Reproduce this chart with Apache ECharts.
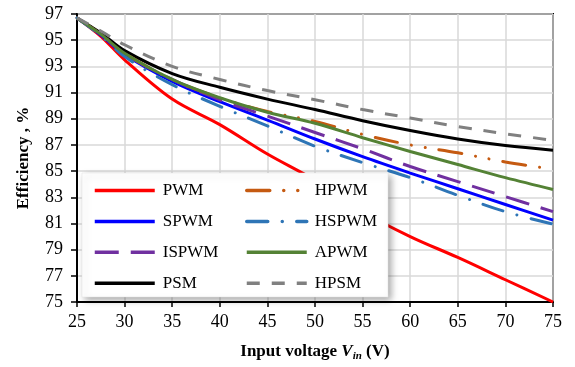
<!DOCTYPE html>
<html>
<head>
<meta charset="utf-8">
<script src="https://cdn.jsdelivr.net/npm/echarts@6/dist/echarts.min.js"></script>
<style>
  html, body { margin: 0; padding: 0; background: #fff; }
  #chart { width: 575px; height: 367px; }
</style>
</head>
<body>
<div id="chart"></div>
<script>
// input voltage (V)
const vin = [25, 27.5, 30, 35, 40, 45, 50, 55, 60, 65, 70, 75];

// efficiency (%) per modulation scheme
const pwm   = [96.7, 95.3, 93.5, 90.5, 88.55, 86.3, 84.3, 81.9, 80.0, 78.4, 76.7, 75.0];
const spwm  = [96.7, 95.4, 93.9, 91.85, 90.3, 88.9, 87.45, 86.1, 84.85, 83.65, 82.45, 81.25];
const ispwm = [96.7, 95.45, 93.95, 92.0, 90.45, 89.2, 87.95, 86.7, 85.35, 84.2, 83.05, 81.9];
const psm   = [96.7, 95.55, 94.2, 92.45, 91.4, 90.5, 89.7, 88.85, 88.1, 87.45, 86.95, 86.6];
const hpwm  = [96.7, 95.45, 94.0, 92.0, 90.6, 89.55, 88.8, 87.8, 87.0, 86.4, 85.7, 85.15];
const hspwm = [96.7, 95.35, 93.75, 91.6, 89.95, 88.45, 86.9, 85.65, 84.5, 83.15, 81.9, 80.95];
const apwm  = [96.7, 95.45, 94.0, 92.0, 90.6, 89.5, 88.65, 87.55, 86.5, 85.5, 84.5, 83.6];
const hpsm  = [96.7, 95.7, 94.65, 93.0, 92.0, 91.15, 90.45, 89.7, 89.05, 88.4, 87.85, 87.35];

const serif = 'Liberation Serif';
const pairs = arr => vin.map((v, i) => [v, arr[i]]);

function line(name, data, color, type, cap) {
  return {
    name: name,
    type: 'line',
    data: pairs(data),
    smooth: 0.35,
    symbol: 'none',
    lineStyle: { color: color, width: 3, type: type || 'solid', cap: cap || 'butt' },
    itemStyle: { color: color },
    z: 2
  };
}

const chart = echarts.init(document.getElementById('chart'));

// the legend sits in two columns, so two vertical legends over one white box
const legendCommon = {
  orient: 'vertical',
  top: 177,
  itemWidth: 60,
  itemHeight: 14,
  itemGap: 13.9,
  z: 20,
  itemStyle: { opacity: 0 },
  lineStyle: { width: 3.5 },
  textStyle: { fontFamily: serif, fontSize: 17, color: '#000', padding: [0, 0, 0, 3] }
};

chart.setOption({
  animation: false,
  grid: {
    left: 77, right: 22, top: 14, bottom: 64,
    show: true, borderColor: '#000', borderWidth: 2
  },
  xAxis: {
    type: 'value',
    min: 25, max: 75, interval: 5,
    name: 'Input voltage {v|V}{s|in} (V)',
    nameLocation: 'middle',
    nameGap: 40,
    nameTextStyle: {
      fontFamily: serif, fontSize: 17, fontWeight: 'bold', color: '#000',
      rich: {
        v: { fontFamily: serif, fontSize: 17, fontWeight: 'bold', fontStyle: 'italic', color: '#000' },
        s: { fontFamily: serif, fontSize: 11, fontWeight: 'bold', fontStyle: 'italic', color: '#000', padding: [9, 0, 0, 0] }
      }
    },
    axisLine: { lineStyle: { color: '#000', width: 2 } },
    axisTick: { length: 5, lineStyle: { color: '#000', width: 1.5 } },
    axisLabel: { fontFamily: serif, fontSize: 18, color: '#000', margin: 11 },
    splitLine: { lineStyle: { color: '#d9d9d9', width: 1.5 } }
  },
  yAxis: {
    type: 'value',
    min: 75, max: 97, interval: 2,
    name: 'Efficiency , %',
    nameLocation: 'middle',
    nameGap: 45,
    nameTextStyle: { fontFamily: serif, fontSize: 17, fontWeight: 'bold', color: '#000' },
    axisLine: { show: true, lineStyle: { color: '#000', width: 2 } },
    axisTick: { show: true, length: 6, lineStyle: { color: '#000', width: 1.5 } },
    axisLabel: { fontFamily: serif, fontSize: 18, color: '#000', margin: 14 },
    splitLine: { lineStyle: { color: '#d9d9d9', width: 1.5 } }
  },
  legend: [
    Object.assign({ left: 88, data: ['PWM', 'SPWM', 'ISPWM', 'PSM'] }, legendCommon),
    Object.assign({ left: 240, data: ['HPWM', 'HSPWM', 'APWM', 'HPSM'] }, legendCommon)
  ],
  graphic: {
    elements: [{
      type: 'rect',
      z: 10,
      shape: { x: 82, y: 173, width: 306, height: 124 },
      style: {
        fill: '#fff', stroke: '#e0e0e0', lineWidth: 0.5,
        shadowBlur: 7, shadowOffsetX: 3, shadowOffsetY: 3, shadowColor: 'rgba(0,0,0,0.35)'
      }
    }]
  },
  series: [
    line('PWM', pwm, '#ff0000'),
    line('SPWM', spwm, '#0000ff'),
    line('ISPWM', ispwm, '#7030a0', [24, 12]),
    line('PSM', psm, '#000000'),
    line('HPWM', hpwm, '#c55a11', [23, 14, 0.01, 14, 0.01, 14], 'round'),
    line('HSPWM', hspwm, '#2e75b6', [21, 14.5, 0.01, 14.5], 'round'),
    line('APWM', apwm, '#548235'),
    line('HPSM', hpsm, '#808080', [13, 12])
  ]
});
</script>
</body>
</html>
